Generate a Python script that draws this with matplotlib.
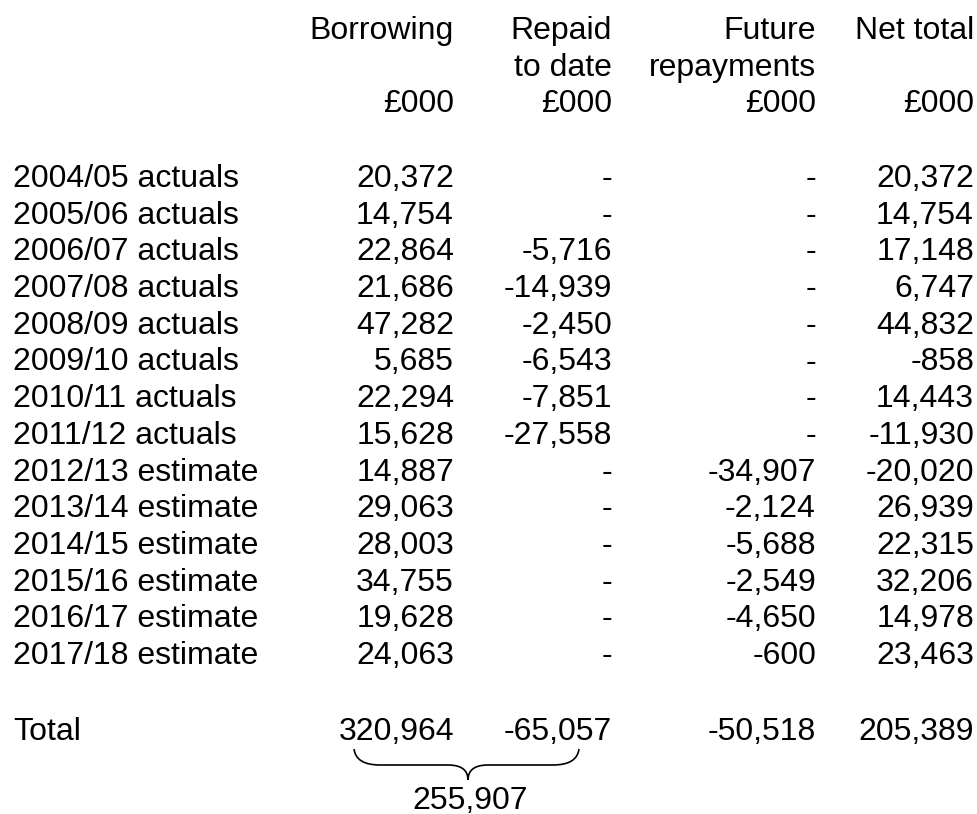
import matplotlib
matplotlib.use("Agg")
import matplotlib.pyplot as plt
from matplotlib.path import Path
import matplotlib.patches as patches

# ---------------------------------------------------------------------------
# Data
# ---------------------------------------------------------------------------
years = ["2004/05 actuals", "2005/06 actuals", "2006/07 actuals",
         "2007/08 actuals", "2008/09 actuals", "2009/10 actuals",
         "2010/11 actuals", "2011/12 actuals", "2012/13 estimate",
         "2013/14 estimate", "2014/15 estimate", "2015/16 estimate",
         "2016/17 estimate", "2017/18 estimate"]
borrowing = [20372, 14754, 22864, 21686, 47282, 5685, 22294, 15628,
             14887, 29063, 28003, 34755, 19628, 24063]
repaid = [None, None, -5716, -14939, -2450, -6543, -7851, -27558,
          None, None, None, None, None, None]
future = [None, None, None, None, None, None, None, None,
          -34907, -2124, -5688, -2549, -4650, -600]
net_total = [20372, 14754, 17148, 6747, 44832, -858, 14443, -11930,
             -20020, 26939, 22315, 32206, 14978, 23463]
totals = [320964, -65057, -50518, 205389]
borrowed_less_repaid = 255907

headers = [["Borrowing", "", "£000"],
           ["Repaid", "to date", "£000"],
           ["Future", "repayments", "£000"],
           ["Net total", "", "£000"]]


def fmt(v):
    return "-" if v is None else f"{v:,}"


# ---------------------------------------------------------------------------
# Canvas in pixel coordinates
# ---------------------------------------------------------------------------
W, H = 978, 814
fig = plt.figure(figsize=(W / 100, H / 100), dpi=100)
ax = fig.add_axes([0, 0, 1, 1])
ax.set_xlim(0, W)
ax.set_ylim(H, 0)
ax.axis("off")

FONT = "Liberation Sans"
FS = 23
label_x = 13
col_right = [454, 612, 816, 974]
row0, row_step = 187, 36.7
head_y = [39, 76, 112]

for c, lines in enumerate(headers):
    for k, txt in enumerate(lines):
        if txt:
            ax.text(col_right[c], head_y[k], txt, family=FONT, fontsize=FS,
                    ha="right", va="baseline")

columns = [borrowing, repaid, future, net_total]
for i, lab in enumerate(years):
    y = row0 + i * row_step
    ax.text(label_x, y, lab, family=FONT, fontsize=FS, ha="left", va="baseline")
    for c, col in enumerate(columns):
        ax.text(col_right[c], y, fmt(col[i]), family=FONT, fontsize=FS,
                ha="right", va="baseline")

total_y = 740
ax.text(label_x, total_y, "Total", family=FONT, fontsize=FS,
        ha="left", va="baseline")
for c, v in enumerate(totals):
    ax.text(col_right[c], total_y, fmt(v), family=FONT, fontsize=FS,
            ha="right", va="baseline")

# curly brace under borrowing + repaid totals
x0, x1, xm = 354, 579, 468
ytop, ymid, ytip = 749, 765, 780
verts = [(x0, ytop), (x0 + 2, ymid), (x0 + 26, ymid),
         (xm - 20, ymid),
         (xm, ymid), (xm, ytip),
         (xm, ymid), (xm + 20, ymid),
         (x1 - 26, ymid),
         (x1 - 2, ymid), (x1, ytop)]
codes = [Path.MOVETO, Path.CURVE3, Path.CURVE3,
         Path.LINETO,
         Path.CURVE3, Path.CURVE3,
         Path.CURVE3, Path.CURVE3,
         Path.LINETO,
         Path.CURVE3, Path.CURVE3]
ax.add_patch(patches.PathPatch(Path(verts, codes), fill=False,
                               lw=1.2, edgecolor="black"))
ax.text(xm + 2, 809, fmt(borrowed_less_repaid), family=FONT, fontsize=FS,
        ha="center", va="baseline")

fig.savefig("out.png", dpi=100)
